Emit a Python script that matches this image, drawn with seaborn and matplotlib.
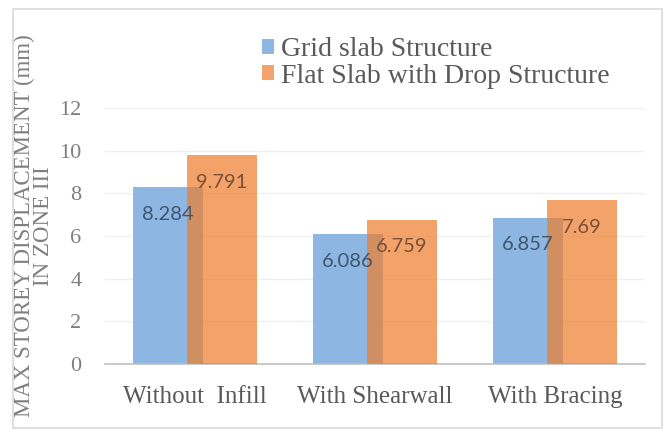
import matplotlib
matplotlib.use("Agg")
import matplotlib.pyplot as plt
from matplotlib.patches import Rectangle
import seaborn as sns
import pandas as pd

# Data
categories = ["Without  Infill", "With Shearwall", "With Bracing"]
grid_slab = [8.284, 6.086, 6.857]
flat_slab_drop = [9.791, 6.759, 7.69]
series_names = ["Grid slab Structure", "Flat Slab with Drop Structure"]
y_ticks = [0, 2, 4, 6, 8, 10, 12]

blue = "#8DB6E2"
orange = "#EF7D2A"   # drawn semi-transparent so the overlap darkens

sns.set_theme(style="white")
plt.rcParams["font.family"] = ["Liberation Serif", "DejaVu Serif"]

fig = plt.figure(figsize=(6.66, 4.37), dpi=100)
ax = fig.add_axes([105 / 666, (437 - 364) / 437, 540 / 666, 256 / 437])

# light frame around the whole chart
fig.patches.append(Rectangle((13 / 666, 9 / 437), 649 / 666, 419 / 437,
                             transform=fig.transFigure, fill=False,
                             edgecolor="#D9D9D9", linewidth=1.2))

idx = list(range(len(categories)))
offset = 0.15
bar_w = 0.394
df_a = pd.DataFrame({"x": [i - offset for i in idx], "y": grid_slab})
df_b = pd.DataFrame({"x": [i + offset for i in idx], "y": flat_slab_drop})

sns.barplot(data=df_a, x="x", y="y", native_scale=True, width=bar_w,
            color=blue, saturation=1, linewidth=0, ax=ax, zorder=2,
            label=series_names[0])
sns.barplot(data=df_b, x="x", y="y", native_scale=True, width=bar_w,
            color=orange, saturation=1, alpha=0.7, linewidth=0, ax=ax,
            zorder=3, label=series_names[1])

label_colors = ["#3F5670", "#7A5038"]
for cont, col in zip(ax.containers, label_colors):
    texts = ax.bar_label(cont, labels=[f"{v:g}" for v in cont.datavalues],
                         padding=-19.5, color=col, fontsize=14.5,
                         family=["Lato", "DejaVu Sans"])
    for t in texts:
        t.set_va("center")
        t.set_zorder(5)

ax.set_xlim(-0.5, 2.5)
ax.set_ylim(0, 12)
ax.set_yticks(y_ticks)
ax.set_xticks(idx)
ax.set_xticklabels(categories)
ax.set_xlabel("")
ax.set_ylabel("MAX STOREY DISPLACEMENT (mm)\nIN ZONE III", fontsize=16.5,
              color="#7F7F7F", linespacing=0.9)
ax.yaxis.set_label_coords(-0.094, 0.54)

ax.grid(axis="y", color="#F0F0F0", linewidth=1, zorder=0)
ax.set_axisbelow(True)
for s in ["top", "right", "left"]:
    ax.spines[s].set_visible(False)
ax.spines["bottom"].set_color("#BFBFBF")
ax.spines["bottom"].set_linewidth(1.2)
ax.tick_params(axis="y", length=0, pad=17, labelsize=16, labelcolor="#7F7F7F")
ax.tick_params(axis="x", length=0, pad=16, labelsize=18, labelcolor="#595959")

leg = ax.legend(loc="upper left", bbox_to_anchor=(0.27, 1.32), frameon=False,
                fontsize=20, handlelength=0.45, handleheight=0.45,
                handletextpad=0.25, labelspacing=0.05, borderaxespad=0)
for txt in leg.get_texts():
    txt.set_color("#595959")

fig.savefig("out.png", dpi=100)
